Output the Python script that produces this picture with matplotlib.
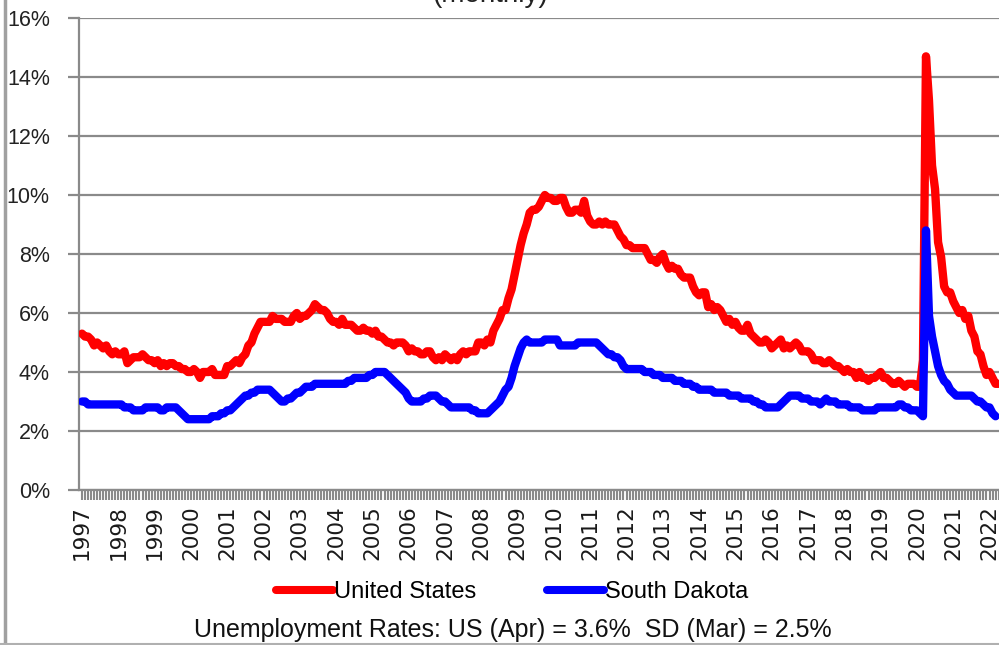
import matplotlib
matplotlib.use("Agg")
import matplotlib.pyplot as plt
from matplotlib.lines import Line2D
import numpy as np

# ---------------- data ----------------
start_year = 1997
year_labels = [str(y) for y in range(1997, 2023)]

# US unemployment rate (%), monthly Jan 1997 - Apr 2022
us_rate = [
    5.3, 5.2, 5.2, 5.1, 4.9, 5.0, 4.9, 4.8, 4.9, 4.7, 4.6, 4.7,   # 1997
    4.6, 4.6, 4.7, 4.3, 4.4, 4.5, 4.5, 4.5, 4.6, 4.5, 4.4, 4.4,   # 1998
    4.3, 4.4, 4.2, 4.3, 4.2, 4.3, 4.3, 4.2, 4.2, 4.1, 4.1, 4.0,   # 1999
    4.0, 4.1, 4.0, 3.8, 4.0, 4.0, 4.0, 4.1, 3.9, 3.9, 3.9, 3.9,   # 2000
    4.2, 4.2, 4.3, 4.4, 4.3, 4.5, 4.6, 4.9, 5.0, 5.3, 5.5, 5.7,   # 2001
    5.7, 5.7, 5.7, 5.9, 5.8, 5.8, 5.8, 5.7, 5.7, 5.7, 5.9, 6.0,   # 2002
    5.8, 5.9, 5.9, 6.0, 6.1, 6.3, 6.2, 6.1, 6.1, 6.0, 5.8, 5.7,   # 2003
    5.7, 5.6, 5.8, 5.6, 5.6, 5.6, 5.5, 5.4, 5.4, 5.5, 5.4, 5.4,   # 2004
    5.3, 5.4, 5.2, 5.2, 5.1, 5.0, 5.0, 4.9, 5.0, 5.0, 5.0, 4.9,   # 2005
    4.7, 4.8, 4.7, 4.7, 4.6, 4.6, 4.7, 4.7, 4.5, 4.4, 4.5, 4.4,   # 2006
    4.6, 4.5, 4.4, 4.5, 4.4, 4.6, 4.7, 4.6, 4.7, 4.7, 4.7, 5.0,   # 2007
    5.0, 4.9, 5.1, 5.0, 5.4, 5.6, 5.8, 6.1, 6.1, 6.5, 6.8, 7.3,   # 2008
    7.8, 8.3, 8.7, 9.0, 9.4, 9.5, 9.5, 9.6, 9.8, 10.0, 9.9, 9.9,  # 2009
    9.8, 9.8, 9.9, 9.9, 9.6, 9.4, 9.4, 9.5, 9.5, 9.4, 9.8, 9.3,   # 2010
    9.1, 9.0, 9.0, 9.1, 9.0, 9.1, 9.0, 9.0, 9.0, 8.8, 8.6, 8.5,   # 2011
    8.3, 8.3, 8.2, 8.2, 8.2, 8.2, 8.2, 8.0, 7.8, 7.8, 7.7, 7.9,   # 2012
    8.0, 7.7, 7.5, 7.6, 7.5, 7.5, 7.3, 7.2, 7.2, 7.2, 6.9, 6.7,   # 2013
    6.6, 6.7, 6.7, 6.2, 6.3, 6.1, 6.2, 6.1, 5.9, 5.7, 5.8, 5.6,   # 2014
    5.7, 5.5, 5.4, 5.4, 5.6, 5.3, 5.2, 5.1, 5.0, 5.0, 5.1, 5.0,   # 2015
    4.8, 4.9, 5.0, 5.1, 4.8, 4.9, 4.8, 4.9, 5.0, 4.9, 4.7, 4.7,   # 2016
    4.7, 4.6, 4.4, 4.4, 4.4, 4.3, 4.3, 4.4, 4.3, 4.2, 4.2, 4.1,   # 2017
    4.0, 4.1, 4.0, 4.0, 3.8, 4.0, 3.8, 3.8, 3.7, 3.8, 3.8, 3.9,   # 2018
    4.0, 3.8, 3.8, 3.7, 3.6, 3.6, 3.7, 3.6, 3.5, 3.6, 3.6, 3.6,   # 2019
    3.5, 3.5, 4.4, 14.7, 13.2, 11.0, 10.2, 8.4, 7.9, 6.9, 6.7, 6.7,  # 2020
    6.4, 6.2, 6.0, 6.1, 5.8, 5.9, 5.4, 5.2, 4.7, 4.6, 4.2, 3.9,   # 2021
    4.0, 3.8, 3.6, 3.6,                                           # 2022
]

# South Dakota unemployment rate (%), monthly Jan 1997 - Mar 2022
sd_rate = [
    3.0, 3.0, 2.9, 2.9, 2.9, 2.9, 2.9, 2.9, 2.9, 2.9, 2.9, 2.9,   # 1997
    2.9, 2.9, 2.8, 2.8, 2.8, 2.7, 2.7, 2.7, 2.7, 2.8, 2.8, 2.8,   # 1998
    2.8, 2.8, 2.7, 2.7, 2.8, 2.8, 2.8, 2.8, 2.7, 2.6, 2.5, 2.4,   # 1999
    2.4, 2.4, 2.4, 2.4, 2.4, 2.4, 2.4, 2.5, 2.5, 2.5, 2.6, 2.6,   # 2000
    2.7, 2.7, 2.8, 2.9, 3.0, 3.1, 3.2, 3.2, 3.3, 3.3, 3.4, 3.4,   # 2001
    3.4, 3.4, 3.4, 3.3, 3.2, 3.1, 3.0, 3.0, 3.1, 3.1, 3.2, 3.3,   # 2002
    3.3, 3.4, 3.5, 3.5, 3.5, 3.6, 3.6, 3.6, 3.6, 3.6, 3.6, 3.6,   # 2003
    3.6, 3.6, 3.6, 3.6, 3.7, 3.7, 3.8, 3.8, 3.8, 3.8, 3.8, 3.9,   # 2004
    3.9, 4.0, 4.0, 4.0, 4.0, 3.9, 3.8, 3.7, 3.6, 3.5, 3.4, 3.3,   # 2005
    3.1, 3.0, 3.0, 3.0, 3.0, 3.1, 3.1, 3.2, 3.2, 3.2, 3.1, 3.0,   # 2006
    3.0, 2.9, 2.8, 2.8, 2.8, 2.8, 2.8, 2.8, 2.8, 2.7, 2.7, 2.6,   # 2007
    2.6, 2.6, 2.6, 2.7, 2.8, 2.9, 3.0, 3.2, 3.4, 3.5, 3.8, 4.2,   # 2008
    4.5, 4.8, 5.0, 5.1, 5.0, 5.0, 5.0, 5.0, 5.0, 5.1, 5.1, 5.1,   # 2009
    5.1, 5.1, 4.9, 4.9, 4.9, 4.9, 4.9, 4.9, 5.0, 5.0, 5.0, 5.0,   # 2010
    5.0, 5.0, 5.0, 4.9, 4.8, 4.7, 4.6, 4.6, 4.5, 4.5, 4.4, 4.2,   # 2011
    4.1, 4.1, 4.1, 4.1, 4.1, 4.1, 4.0, 4.0, 4.0, 3.9, 3.9, 3.9,   # 2012
    3.8, 3.8, 3.8, 3.8, 3.7, 3.7, 3.7, 3.6, 3.6, 3.6, 3.5, 3.5,   # 2013
    3.4, 3.4, 3.4, 3.4, 3.4, 3.3, 3.3, 3.3, 3.3, 3.3, 3.2, 3.2,   # 2014
    3.2, 3.2, 3.1, 3.1, 3.1, 3.1, 3.0, 3.0, 2.9, 2.9, 2.8, 2.8,   # 2015
    2.8, 2.8, 2.8, 2.9, 3.0, 3.1, 3.2, 3.2, 3.2, 3.2, 3.1, 3.1,   # 2016
    3.1, 3.0, 3.0, 3.0, 2.9, 3.0, 3.1, 3.0, 3.0, 3.0, 2.9, 2.9,   # 2017
    2.9, 2.9, 2.8, 2.8, 2.8, 2.8, 2.7, 2.7, 2.7, 2.7, 2.7, 2.8,   # 2018
    2.8, 2.8, 2.8, 2.8, 2.8, 2.8, 2.9, 2.9, 2.8, 2.8, 2.7, 2.7,   # 2019
    2.7, 2.6, 2.5, 8.8, 5.9, 5.2, 4.7, 4.2, 3.9, 3.7, 3.6, 3.4,   # 2020
    3.3, 3.2, 3.2, 3.2, 3.2, 3.2, 3.2, 3.1, 3.0, 3.0, 2.9, 2.8,   # 2021
    2.8, 2.6, 2.5,                                                # 2022
]

series_names = ["United States", "South Dakota"]
title_text = "(monthly)"
caption_text = "Unemployment Rates: US (Apr) = 3.6%  SD (Mar) = 2.5%"

# ---------------- figure ----------------
sans = ["Liberation Sans", "DejaVu Sans"]
W, H = 999, 645
fig = plt.figure(figsize=(W / 100, H / 100), dpi=100)
ax = fig.add_axes([79 / W, 1 - 490 / H, (W - 79) / W, (490 - 18) / H])

grid_col = "#8a8a8a"
m_us = np.arange(len(us_rate))
m_sd = np.arange(len(sd_rate))
ax.plot(m_us, us_rate, color="#ff0000", lw=6, solid_capstyle="round",
        solid_joinstyle="round", zorder=3, label=series_names[0])
ax.plot(m_sd, sd_rate, color="#0000ff", lw=6, solid_capstyle="round",
        solid_joinstyle="round", zorder=4, label=series_names[1])

ax.set_ylim(0, 16)
ax.set_xlim(-1, (W - 82) / 3.025)
ax.set_yticks(np.arange(0, 17, 2))
ax.set_yticklabels([f"{v}%" for v in range(0, 17, 2)], fontsize=15.5, family=sans,
                   color="#222222")
ax.yaxis.grid(True, color=grid_col, lw=1.6)
ax.set_axisbelow(True)

major = [12 * i for i in range(len(year_labels))]
ax.set_xticks(major)
ax.set_xticklabels(year_labels, rotation=90, fontsize=15.5, color="#1a1a1a")
ax.set_xticks(np.arange(0, len(us_rate)), minor=True)
ax.tick_params(axis="x", which="both", length=7, width=1.5, color=grid_col,
               direction="out", pad=4)
ax.tick_params(axis="y", length=8, width=1.6, color=grid_col, pad=13)

for s in ["top", "right"]:
    ax.spines[s].set_visible(False)
for s in ["left", "bottom"]:
    ax.spines[s].set_color(grid_col)
    ax.spines[s].set_linewidth(1.6)

# title (clipped at top, as in the reference)
fig.text(490 / W, 1 + 5 / H, title_text, ha="center", va="center", fontsize=20,
         family=sans, color="#222222")

# legend
handles = [Line2D([], [], color="#ff0000", lw=5.8, solid_capstyle="round"),
           Line2D([], [], color="#0000ff", lw=5.8, solid_capstyle="round")]
fig.legend(handles, series_names, loc="center", bbox_to_anchor=(512 / W, 1 - 592 / H),
           ncol=2, frameon=False, handlelength=2.4, handletextpad=0.05,
           columnspacing=3.0, prop={"family": sans, "size": 17})

fig.text(513 / W, 1 - 630 / H, caption_text, ha="center", va="center", fontsize=18,
         family=sans, color="#111111")

# outer chart border on the left / bottom
fig.add_artist(Line2D([5 / W, 5 / W], [0, 1], transform=fig.transFigure,
                      color="#a0a0a0", lw=2.5))
fig.add_artist(Line2D([0, 1], [1 / H, 1 / H], transform=fig.transFigure,
                      color="#b0b0b0", lw=1.5))

fig.savefig("out.png", dpi=100)
